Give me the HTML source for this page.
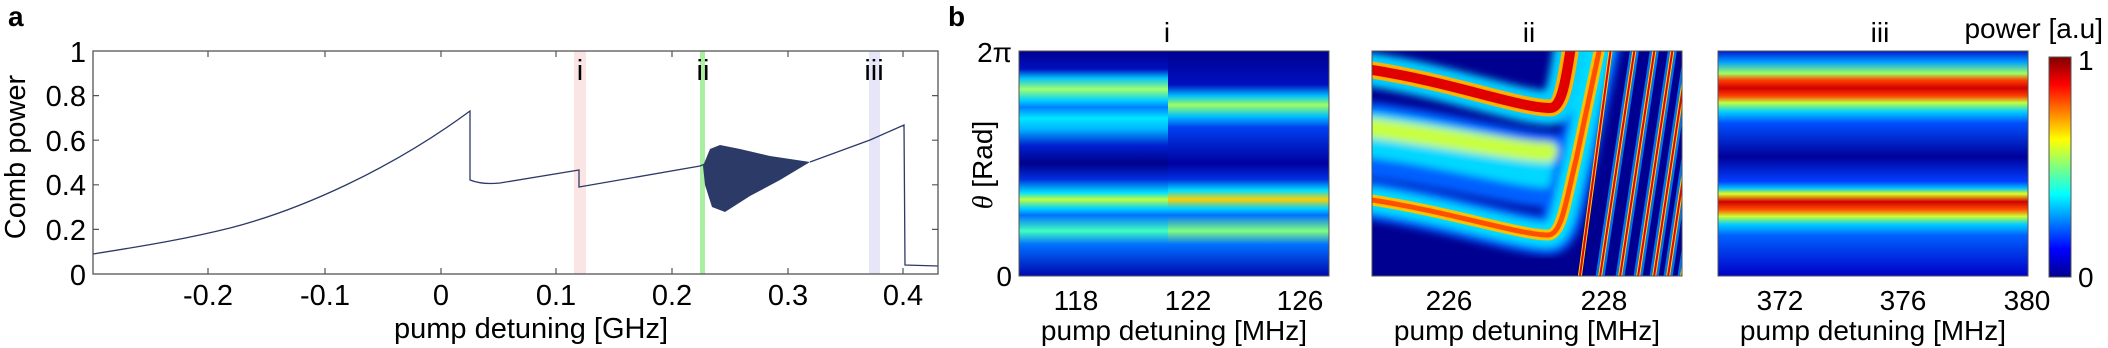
<!DOCTYPE html>
<html><head><meta charset="utf-8"><style>
html,body{margin:0;padding:0;background:#fff;}
svg{display:block;font-family:"Liberation Sans",sans-serif;}
</style></head><body>
<svg width="2108" height="348" viewBox="0 0 2108 348" xmlns="http://www.w3.org/2000/svg">
<defs>
<linearGradient id="g3" x1="0" y1="0" x2="0" y2="1">
<stop offset="0" stop-color="#0018d0"/><stop offset="0.05" stop-color="#00a0ff"/><stop offset="0.1" stop-color="#a0ff60"/>
<stop offset="0.13" stop-color="#ff4000"/><stop offset="0.165" stop-color="#d00000"/><stop offset="0.2" stop-color="#ff4000"/>
<stop offset="0.23" stop-color="#c0ff40"/><stop offset="0.27" stop-color="#00d0ff"/><stop offset="0.32" stop-color="#0050ff"/>
<stop offset="0.47" stop-color="#00009a"/><stop offset="0.58" stop-color="#0040ff"/><stop offset="0.61" stop-color="#00c0ff"/>
<stop offset="0.635" stop-color="#e0ff20"/><stop offset="0.67" stop-color="#d00000"/><stop offset="0.705" stop-color="#ff5000"/>
<stop offset="0.735" stop-color="#d0ff30"/><stop offset="0.77" stop-color="#00d0ff"/><stop offset="0.82" stop-color="#0060ff"/>
<stop offset="1" stop-color="#0000c8"/></linearGradient>
<linearGradient id="g1a" x1="0" y1="0" x2="0" y2="1">
<stop offset="0" stop-color="#000090"/><stop offset="0.08" stop-color="#0010c0"/><stop offset="0.12" stop-color="#00c0ff"/>
<stop offset="0.17" stop-color="#a0ff70"/><stop offset="0.22" stop-color="#00d0ff"/><stop offset="0.25" stop-color="#0080ff"/>
<stop offset="0.3" stop-color="#00e8ff"/><stop offset="0.35" stop-color="#00b0ff"/><stop offset="0.42" stop-color="#0020d0"/>
<stop offset="0.5" stop-color="#00008a"/><stop offset="0.57" stop-color="#0030e0"/><stop offset="0.63" stop-color="#00e0ff"/>
<stop offset="0.66" stop-color="#c0ff40"/><stop offset="0.7" stop-color="#00d0ff"/><stop offset="0.73" stop-color="#0070ff"/>
<stop offset="0.8" stop-color="#40ffc0"/><stop offset="0.86" stop-color="#0070ff"/><stop offset="1" stop-color="#0008b0"/></linearGradient>
<linearGradient id="g1b" x1="0" y1="0" x2="0" y2="1">
<stop offset="0" stop-color="#000090"/><stop offset="0.15" stop-color="#0010c0"/><stop offset="0.2" stop-color="#00c0ff"/>
<stop offset="0.24" stop-color="#a0ff60"/><stop offset="0.29" stop-color="#00c0ff"/><stop offset="0.34" stop-color="#0040f0"/>
<stop offset="0.5" stop-color="#0000a0"/><stop offset="0.57" stop-color="#0030e0"/><stop offset="0.62" stop-color="#00e0ff"/>
<stop offset="0.66" stop-color="#ffd000"/><stop offset="0.7" stop-color="#00d0ff"/><stop offset="0.73" stop-color="#0070ff"/>
<stop offset="0.8" stop-color="#80ff80"/><stop offset="0.86" stop-color="#0070ff"/><stop offset="1" stop-color="#0008b0"/></linearGradient>
<linearGradient id="gcb" x1="0" y1="1" x2="0" y2="0">
<stop offset="0" stop-color="#00008f"/><stop offset="0.125" stop-color="#0000ff"/><stop offset="0.375" stop-color="#00ffff"/>
<stop offset="0.625" stop-color="#ffff00"/><stop offset="0.875" stop-color="#ff0000"/><stop offset="1" stop-color="#800000"/></linearGradient>
<clipPath id="c2"><rect x="1372" y="51" width="310" height="225"/></clipPath>
<filter id="bl" x="-10%" y="-10%" width="120%" height="120%"><feGaussianBlur stdDeviation="4"/></filter>
</defs>

<!-- Panel a -->
<text x="8" y="26" font-size="28" font-weight="bold">a</text>
<rect x="574" y="51" width="12" height="223" fill="#fbe4e4"/>
<rect x="700" y="51" width="5" height="223" fill="#a8f0a0"/>
<rect x="869" y="51" width="11" height="223" fill="#e6e6f8"/>
<g stroke="#2b3a67" stroke-width="1.3" fill="none">
<path d="M93,254 C150,245 190,238 230,228 C300,210 390,170 470,111 L470,180 C480,184 490,184 500,183 L579,170 L579,187 L700,166 L705,164"/>
<path d="M810,162 L870,140 L904,125 L905,265 L938,266"/>
</g>
<path d="M703,166 L710,149 L720,145 L740,149 L770,156 L810,162 L780,180 L750,196 L725,212 L712,207 L705,185 Z" fill="#2b3a67"/>
<rect x="93" y="51" width="845" height="223" fill="none" stroke="#555" stroke-width="1.3"/>
<g stroke="#555" stroke-width="1.2">
<path d="M208,274v-6M325,274v-6M441,274v-6M556,274v-6M672,274v-6M788,274v-6M903,274v-6"/>
<path d="M208,51v6M325,51v6M441,51v6M556,51v6M672,51v6M788,51v6M903,51v6"/>
<path d="M93,229.4h6M93,184.8h6M93,140.2h6M93,95.6h6M938,229.4h-6M938,184.8h-6M938,140.2h-6M938,95.6h-6"/>
</g>
<g font-size="29" text-anchor="end">
<text x="86" y="285">0</text><text x="86" y="240">0.2</text><text x="86" y="195">0.4</text>
<text x="86" y="151">0.6</text><text x="86" y="106">0.8</text><text x="86" y="62">1</text>
</g>
<g font-size="29" text-anchor="middle">
<text x="208" y="305">-0.2</text><text x="325" y="305">-0.1</text><text x="441" y="305">0</text>
<text x="556" y="305">0.1</text><text x="672" y="305">0.2</text><text x="788" y="305">0.3</text><text x="903" y="305">0.4</text>
<text x="531" y="338">pump detuning [GHz]</text>
<text x="580" y="80">i</text><text x="703" y="80">ii</text><text x="874" y="80">iii</text>
<text transform="translate(25,157) rotate(-90)">Comb power</text>
</g>

<!-- Panel b -->
<text x="948" y="26" font-size="28" font-weight="bold">b</text>
<g font-size="28" text-anchor="middle">
<text x="1167" y="42">i</text><text x="1529" y="42">ii</text><text x="1880" y="42">iii</text>
<text x="1076" y="310">118</text><text x="1188" y="310">122</text><text x="1300" y="310">126</text>
<text x="1449" y="310">226</text><text x="1604" y="310">228</text>
<text x="1780" y="310">372</text><text x="1903" y="310">376</text><text x="2027" y="310">380</text>
<text x="1174" y="340">pump detuning [MHz]</text>
<text x="1527" y="340">pump detuning [MHz]</text>
<text x="1873" y="340">pump detuning [MHz]</text>
<text x="2103" y="38" text-anchor="end">power [a.u]</text>
<text transform="translate(992,165) rotate(-90)"><tspan font-family="Liberation Serif" font-style="italic">θ</tspan> [Rad]</text>
</g>
<g font-size="28" text-anchor="end">
<text x="1012" y="62">2π</text><text x="1012" y="286">0</text>
</g>
<g font-size="28"><text x="2078" y="70">1</text><text x="2078" y="287">0</text></g>

<!-- heatmap i -->
<rect x="1019" y="51" width="149" height="225" fill="url(#g1a)"/>
<rect x="1168" y="51" width="161" height="225" fill="url(#g1b)"/>
<rect x="1019" y="51" width="310" height="225" fill="none" stroke="#555" stroke-width="1"/>

<!-- heatmap ii -->
<g clip-path="url(#c2)">
<rect x="1372" y="51" width="310" height="225" fill="#000090"/>
<g fill="none" stroke-linecap="round" filter="url(#bl)">
<path d="M1372,140 C1450,150 1520,170 1548,170" stroke="#0060ff" stroke-width="75"/>
<path d="M1372,135 C1450,145 1520,165 1548,165" stroke="#00d8ff" stroke-width="45"/>
<path d="M1372,128 C1450,138 1520,152 1548,152" stroke="#c8ff40" stroke-width="20"/>
<path d="M1372,200 C1450,212 1520,235 1548,235 C1562,235 1566,200 1576,160 L1610,0" stroke="#0060ff" stroke-width="40"/>
<path d="M1372,200 C1450,212 1520,235 1548,235 C1562,235 1566,200 1576,160 L1610,0" stroke="#00e0ff" stroke-width="24"/>
<path d="M1372,70 C1450,82 1520,108 1550,108 C1562,108 1566,80 1572,40" stroke="#00d0ff" stroke-width="34"/>
</g>
<g fill="none" stroke-linecap="round">
<path d="M1372,200 C1450,212 1520,235 1548,235 C1562,235 1566,200 1576,160 L1610,0" stroke="#ffc000" stroke-width="11"/>
<path d="M1372,200 C1450,212 1520,235 1548,235 C1562,235 1566,200 1576,160 L1610,0" stroke="#ff5000" stroke-width="5"/>
<path d="M1372,70 C1450,82 1520,108 1550,108 C1562,108 1566,80 1572,40" stroke="#ffb000" stroke-width="17"/>
<path d="M1372,70 C1450,82 1520,108 1550,108 C1562,108 1566,80 1572,40" stroke="#e00000" stroke-width="10"/>
<g stroke="#0090ff" stroke-width="9" opacity="0.8">
<path d="M1598,290 L1636,40M1618,290 L1656,40M1636,290 L1674,40M1652,290 L1690,40M1666,290 L1704,40M1680,290 L1718,40"/>
</g>
<g stroke="#ffd000" stroke-width="4">
<path d="M1578,290 L1612,40M1598,290 L1636,40M1618,290 L1656,40M1636,290 L1674,40M1652,290 L1690,40M1666,290 L1704,40M1680,290 L1718,40"/>
</g>
<g stroke="#e00000" stroke-width="2">
<path d="M1578,290 L1612,40M1598,290 L1636,40M1618,290 L1656,40M1636,290 L1674,40M1652,290 L1690,40M1666,290 L1704,40M1680,290 L1718,40"/>
</g>
</g>
</g>
<rect x="1372" y="51" width="310" height="225" fill="none" stroke="#555" stroke-width="1"/>

<!-- heatmap iii -->
<rect x="1718" y="51" width="310" height="225" fill="url(#g3)"/>
<rect x="1718" y="51" width="310" height="225" fill="none" stroke="#555" stroke-width="1"/>

<!-- colorbar -->
<rect x="2049" y="57" width="22" height="220" fill="url(#gcb)" stroke="#555" stroke-width="1"/>
</svg>
</body></html>
